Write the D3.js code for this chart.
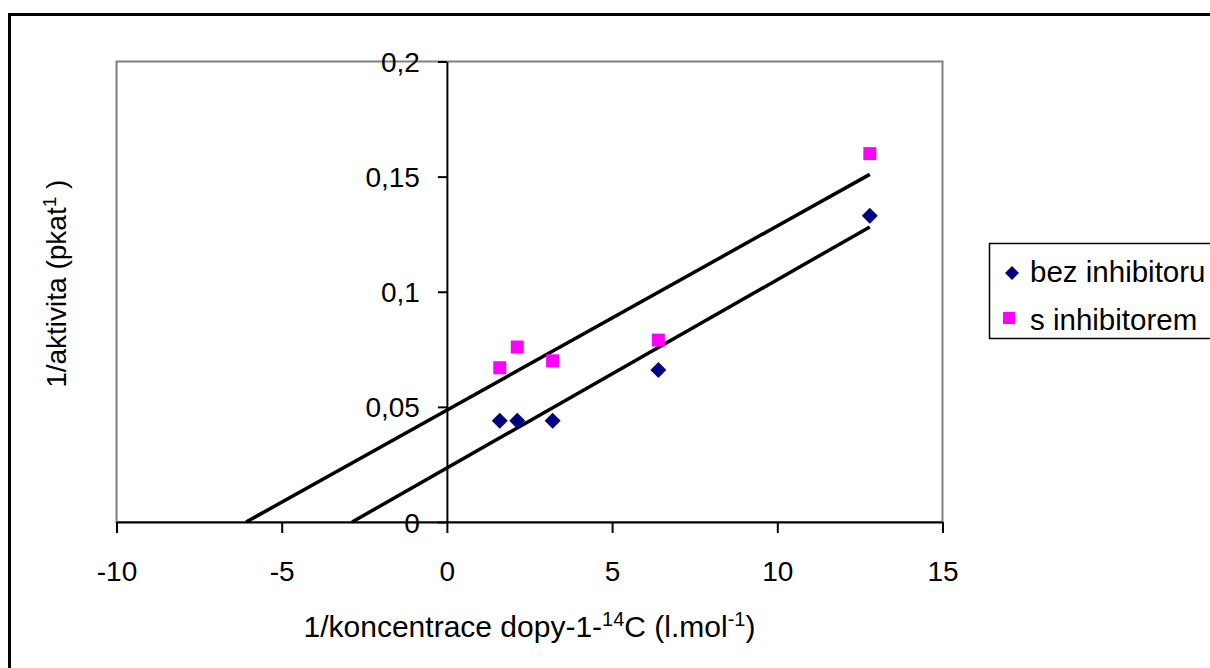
<!DOCTYPE html>
<html>
<head>
<meta charset="utf-8">
<script src="https://cdn.jsdelivr.net/npm/d3@7"></script>
<style>
  body { margin: 0; background: #fff; }
  svg { display: block; font-family: "Liberation Sans", Arial, sans-serif; }
</style>
</head>
<body>
<div id="chart"></div>
<script>
// data
var xValues = [1.6, 2.13, 3.2, 6.4, 12.8];
var bezInhibitoru = [0.044, 0.044, 0.044, 0.066, 0.133];
var sInhibitorem = [0.067, 0.076, 0.070, 0.079, 0.160];
var xTicks = [-10, -5, 0, 5, 10, 15];
var yTicks = [0, 0.05, 0.1, 0.15, 0.2];
var seriesNames = ["bez inhibitoru", "s inhibitorem"];

var width = 1210, height = 668;
var plot = { left: 116.5, right: 942.5, top: 61.5, bottom: 522 };

var svg = d3.select("#chart").append("svg")
    .attr("width", width)
    .attr("height", height);

// outer chart frame (runs off the right and bottom)
svg.append("rect")
    .attr("x", 9.5)
    .attr("y", 14.5)
    .attr("width", width + 20)
    .attr("height", height + 20)
    .attr("fill", "none")
    .attr("stroke", "#000")
    .attr("stroke-width", 3);

var x = d3.scaleLinear().domain([-10, 15]).range([plot.left, plot.right]);
var y = d3.scaleLinear().domain([0, 0.2]).range([plot.bottom, plot.top]);

// plot area border
svg.append("rect")
    .attr("x", plot.left)
    .attr("y", plot.top)
    .attr("width", plot.right - plot.left)
    .attr("height", plot.bottom - plot.top)
    .attr("fill", "none")
    .attr("stroke", "#808080")
    .attr("stroke-width", 2);

var fmt = d => String(d).replace(".", ",");

var xAxis = svg.append("g")
    .attr("transform", "translate(0," + y(0) + ")")
    .call(d3.axisBottom(x).tickValues(xTicks).tickSize(11).tickPadding(28).tickSizeOuter(0).tickFormat(fmt));

var yAxis = svg.append("g")
    .attr("transform", "translate(" + x(0) + ",0)")
    .call(d3.axisLeft(y).tickValues(yTicks).tickSize(9).tickPadding(18).tickSizeOuter(0).tickFormat(fmt));

[xAxis, yAxis].forEach(function(ax) {
  ax.select(".domain").attr("stroke", "#000").attr("stroke-width", 2);
  ax.selectAll(".tick line").attr("stroke", "#000").attr("stroke-width", 2);
  ax.selectAll(".tick text")
      .attr("fill", "#000")
      .attr("font-family", "Liberation Sans, Arial, sans-serif")
      .attr("font-size", "28px");
});
yAxis.selectAll(".tick text").attr("dy", "0.36em");

// linear trendlines (least squares), extended back to y = 0
function fit(xs, ys) {
  var mx = d3.mean(xs), my = d3.mean(ys);
  var sxy = d3.sum(xs, (v, i) => (v - mx) * (ys[i] - my));
  var sxx = d3.sum(xs, v => (v - mx) * (v - mx));
  var m = sxy / sxx;
  return { m: m, b: my - m * mx };
}

[sInhibitorem, bezInhibitoru].forEach(function(ys) {
  var f = fit(xValues, ys);
  var x0 = -f.b / f.m, x1 = d3.max(xValues);
  svg.append("line")
      .attr("x1", x(x0)).attr("y1", y(0))
      .attr("x2", x(x1)).attr("y2", y(f.m * x1 + f.b))
      .attr("stroke", "#000")
      .attr("stroke-width", 3.5);
});

// markers
var diamond = "M0,-8L8,0L0,8L-8,0Z";

svg.selectAll(".bez")
    .data(bezInhibitoru)
  .enter().append("path")
    .attr("class", "bez")
    .attr("d", diamond)
    .attr("transform", (d, i) => "translate(" + x(xValues[i]) + "," + y(d) + ")")
    .attr("fill", "#000080");

svg.selectAll(".sinh")
    .data(sInhibitorem)
  .enter().append("rect")
    .attr("class", "sinh")
    .attr("x", (d, i) => x(xValues[i]) - 6.5)
    .attr("y", d => y(d) - 6.5)
    .attr("width", 13)
    .attr("height", 13)
    .attr("fill", "#ff00ff");

// axis titles
var xTitle = svg.append("text")
    .attr("x", (plot.left + plot.right) / 2)
    .attr("y", 637)
    .attr("text-anchor", "middle")
    .attr("font-size", "30px");
xTitle.append("tspan").text("1/koncentrace dopy-1-");
xTitle.append("tspan").attr("font-size", "20px").attr("dy", -11).text("14");
xTitle.append("tspan").attr("dy", 11).text("C (l.mol");
xTitle.append("tspan").attr("font-size", "20px").attr("dy", -11).text("-1");
xTitle.append("tspan").attr("dy", 11).text(")");

var yTitle = svg.append("text")
    .attr("transform", "translate(66," + ((plot.top + plot.bottom) / 2 - 8) + ") rotate(-90)")
    .attr("text-anchor", "middle")
    .attr("font-size", "28px");
yTitle.append("tspan").text("1/aktivita (pkat");
yTitle.append("tspan").attr("font-size", "19px").attr("dy", -10).text("1");
yTitle.append("tspan").attr("dy", 10).text(" )");

// legend
var legend = svg.append("g");
legend.append("rect")
    .attr("x", 989.5)
    .attr("y", 243.5)
    .attr("width", 260)
    .attr("height", 95)
    .attr("fill", "#fff")
    .attr("stroke", "#000")
    .attr("stroke-width", 1.5);

legend.append("path")
    .attr("d", "M0,-7L7,0L0,7L-7,0Z")
    .attr("transform", "translate(1012,273)")
    .attr("fill", "#000080");
legend.append("rect")
    .attr("x", 1003).attr("y", 312)
    .attr("width", 12).attr("height", 12)
    .attr("fill", "#ff00ff");

legend.selectAll(".ltext")
    .data(seriesNames)
  .enter().append("text")
    .attr("class", "ltext")
    .attr("x", 1030)
    .attr("y", (d, i) => 282 + i * 48)
    .attr("font-size", "29.5px")
    .text(d => d);
</script>
</body>
</html>
